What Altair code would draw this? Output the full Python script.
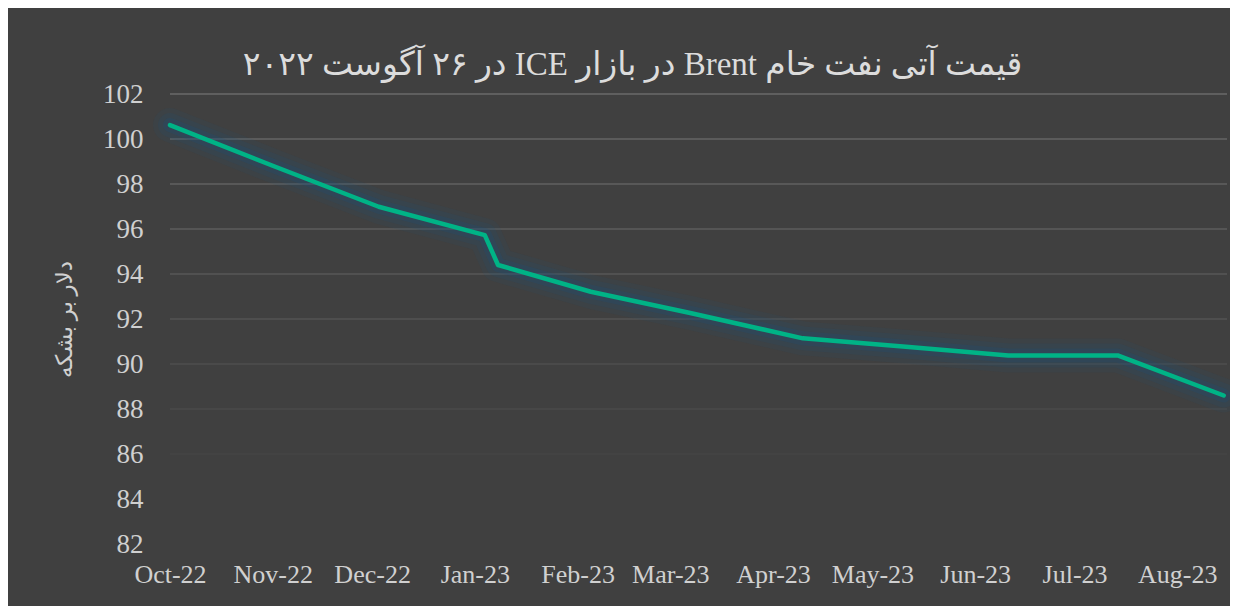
import altair as alt
import pandas as pd

# ---- data ----
dates = ["2022-10-01", "2022-11-01", "2022-12-03", "2023-01-04", "2023-01-08",
         "2023-02-05", "2023-03-07", "2023-04-10", "2023-05-12", "2023-06-11",
         "2023-07-14", "2023-08-15"]
prices = [100.62, 98.81, 96.99, 95.73, 94.40, 93.21, 92.27, 91.14, 90.76,
          90.38, 90.38, 88.60]
y_ticks = [82, 84, 86, 88, 90, 92, 94, 96, 98, 100, 102]
month_ticks = [(2022, 10), (2022, 11), (2022, 12), (2023, 1), (2023, 2), (2023, 3),
               (2023, 4), (2023, 5), (2023, 6), (2023, 7), (2023, 8)]
title_text = "قیمت آتی نفت خام  Brent در بازار ICE در ۲۶ آگوست ۲۰۲۲"
y_title = "دلار بر بشکه"

df = pd.DataFrame({"date": dates, "price": prices})
grid_df = pd.DataFrame({"v": y_ticks})

FONT = "Liberation Serif, DejaVu Serif, DejaVu Sans"
LABEL = "#d0d0d0"

xscale = alt.Scale(type="utc",
                   domain=[alt.DateTime(year=2022, month=10, date=1, utc=True),
                           alt.DateTime(year=2023, month=8, date=16, utc=True)])
yscale = alt.Scale(domain=[82, 102], nice=False, zero=False)

xaxis = alt.Axis(values=[alt.DateTime(year=y, month=m, date=1, utc=True) for y, m in month_ticks],
                 format="%b-%y", grid=False, domain=False, ticks=False,
                 labelFont=FONT, labelFontSize=26, labelColor=LABEL,
                 labelPadding=17, labelOverlap=False, labelFlush=False)
yaxis = alt.Axis(values=y_ticks, grid=False, domain=False, ticks=False,
                 labelFont=FONT, labelFontSize=27, labelColor=LABEL, labelPadding=27,
                 titleFont=FONT, titleFontSize=23, titleColor=LABEL,
                 titleFontWeight="normal", titlePadding=26)

grid = alt.Chart(grid_df).transform_calculate(
    op="max(0, (datum.v - 84) / 18)"
).mark_rule(color="#6a6a6a", strokeWidth=1.5).encode(
    y=alt.Y("v:Q", scale=yscale, axis=yaxis, title=y_title),
    opacity=alt.Opacity("op:Q", scale=None),
)

base = alt.Chart(df).encode(
    x=alt.X("date:T", scale=xscale, axis=xaxis, title=None),
    y=alt.Y("price:Q", scale=yscale, axis=yaxis, title=y_title),
)

GLOW = "#1f4e79"
glow1 = base.mark_line(color=GLOW, strokeWidth=34, opacity=0.11, strokeJoin="round", strokeCap="round")
glow2 = base.mark_line(color=GLOW, strokeWidth=24, opacity=0.16, strokeJoin="round", strokeCap="round")
glow3 = base.mark_line(color=GLOW, strokeWidth=14, opacity=0.24, strokeJoin="round", strokeCap="round")
line = base.mark_line(color="#00b386", strokeWidth=4.5, strokeJoin="round", strokeCap="round")

chart = alt.layer(grid, glow1, glow2, glow3, line).properties(
    width=1057,
    height=450,
    title=alt.TitleParams(
        text="\u202b" + title_text + "\u202c",
        font=FONT, fontSize=33, fontWeight="normal", color="#dcdcdc",
        anchor="middle", dx=-66, offset=0, dy=28, baseline="alphabetic",
    ),
    background="#404040",
    autosize=alt.AutoSizeParams(type="none"),
    padding={"left": 162, "top": 86, "right": 3, "bottom": 62},
).configure_view(stroke=None)

chart.save("out.html", embed_options={"renderer": "svg", "actions": False})
